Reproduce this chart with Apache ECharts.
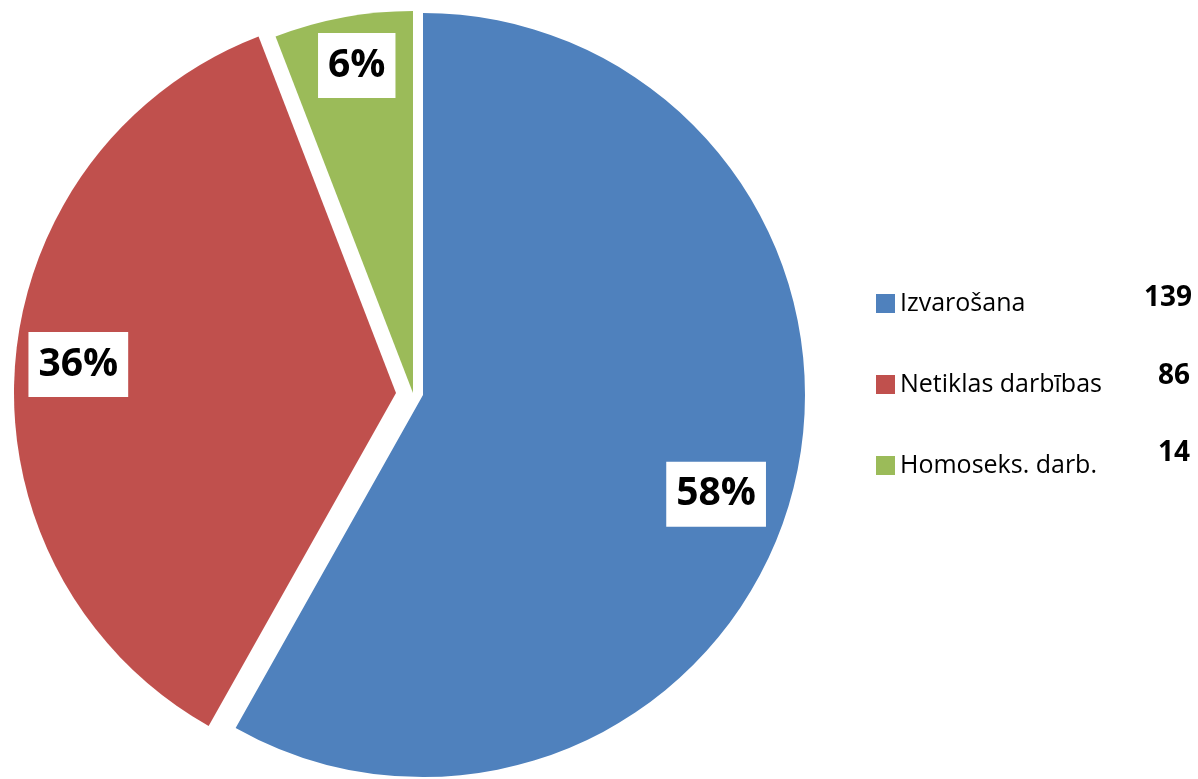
<!DOCTYPE html>
<html><head><meta charset="utf-8">
<script src="https://cdn.jsdelivr.net/npm/echarts@6/dist/echarts.min.js"></script>
<style>html,body{margin:0;padding:0;background:#fff}#c{width:1198px;height:779px}</style>
</head><body><div id="c"></div>
<script>
// data
const categories = ['Izvarošana', 'Netiklas darbības', 'Homoseks. darb.'];
const counts = [139, 86, 14];
// style / layout
const colors = ['#4F81BD', '#C0504D', '#9BBB59'];
const centers = [[423, 395], [396, 393], [413, 393]];
const labelRadiusRatio = [0.81, 0.835, 0.87];
const labelAngleShift = [4, 1, 0.8]; // degrees, clockwise on screen
const R = 382;
const numberPos = [[1192, 298], [1190, 376], [1190, 453]];

const chart = echarts.init(document.getElementById('c'), null, {renderer: 'canvas'});
const series = categories.map((name, i) => ({
  type: 'pie', center: centers[i], radius: [0, R], startAngle: 90, clockwise: true,
  avoidLabelOverlap: false, percentPrecision: 0, silent: true, animation: false,
  labelLine: {show: false},
  emphasis: {disabled: true},
  data: categories.map((n, j) => ({
    name: n, value: counts[j],
    itemStyle: {color: j === i ? colors[j] : 'rgba(0,0,0,0)', borderWidth: 0},
    label: {show: j === i}
  })),
  label: {
    position: 'inside', formatter: '{d}%', fontFamily: 'Open Sans', fontWeight: 'bold',
    fontSize: 39, color: '#000', backgroundColor: '#fff', padding: [14, 10, 12, 10]
  },
  labelLayout: function (p) {
    const c = centers[i];
    const lr = p.labelRect;
    const lx = lr.x + lr.width / 2, ly = lr.y + lr.height / 2;
    const a = Math.atan2(ly - c[1], lx - c[0]) + labelAngleShift[i] * Math.PI / 180;
    const t = labelRadiusRatio[i] * R;
    return {x: c[0] + Math.cos(a) * t, y: c[1] + Math.sin(a) * t, align: 'center', verticalAlign: 'middle'};
  }
}));

chart.setOption({
  backgroundColor: '#fff',
  animation: false,
  legend: {
    orient: 'vertical', left: 876, top: 291, padding: 0, itemWidth: 19, itemHeight: 19, itemGap: 56, itemTextGap: 10,
    icon: 'rect', selectedMode: false,
    textStyle: {fontFamily: 'Open Sans', fontSize: 25, color: '#000'},
    data: categories.map((n, i) => ({name: n, itemStyle: {color: colors[i]}}))
  },
  graphic: counts.map((v, i) => ({
    type: 'text', x: numberPos[i][0], y: numberPos[i][1],
    style: {text: String(v), align: 'right', verticalAlign: 'middle',
      font: 'bold 28px "Open Sans"', fill: '#000'}
  })),
  series: series
});
</script></body></html>
